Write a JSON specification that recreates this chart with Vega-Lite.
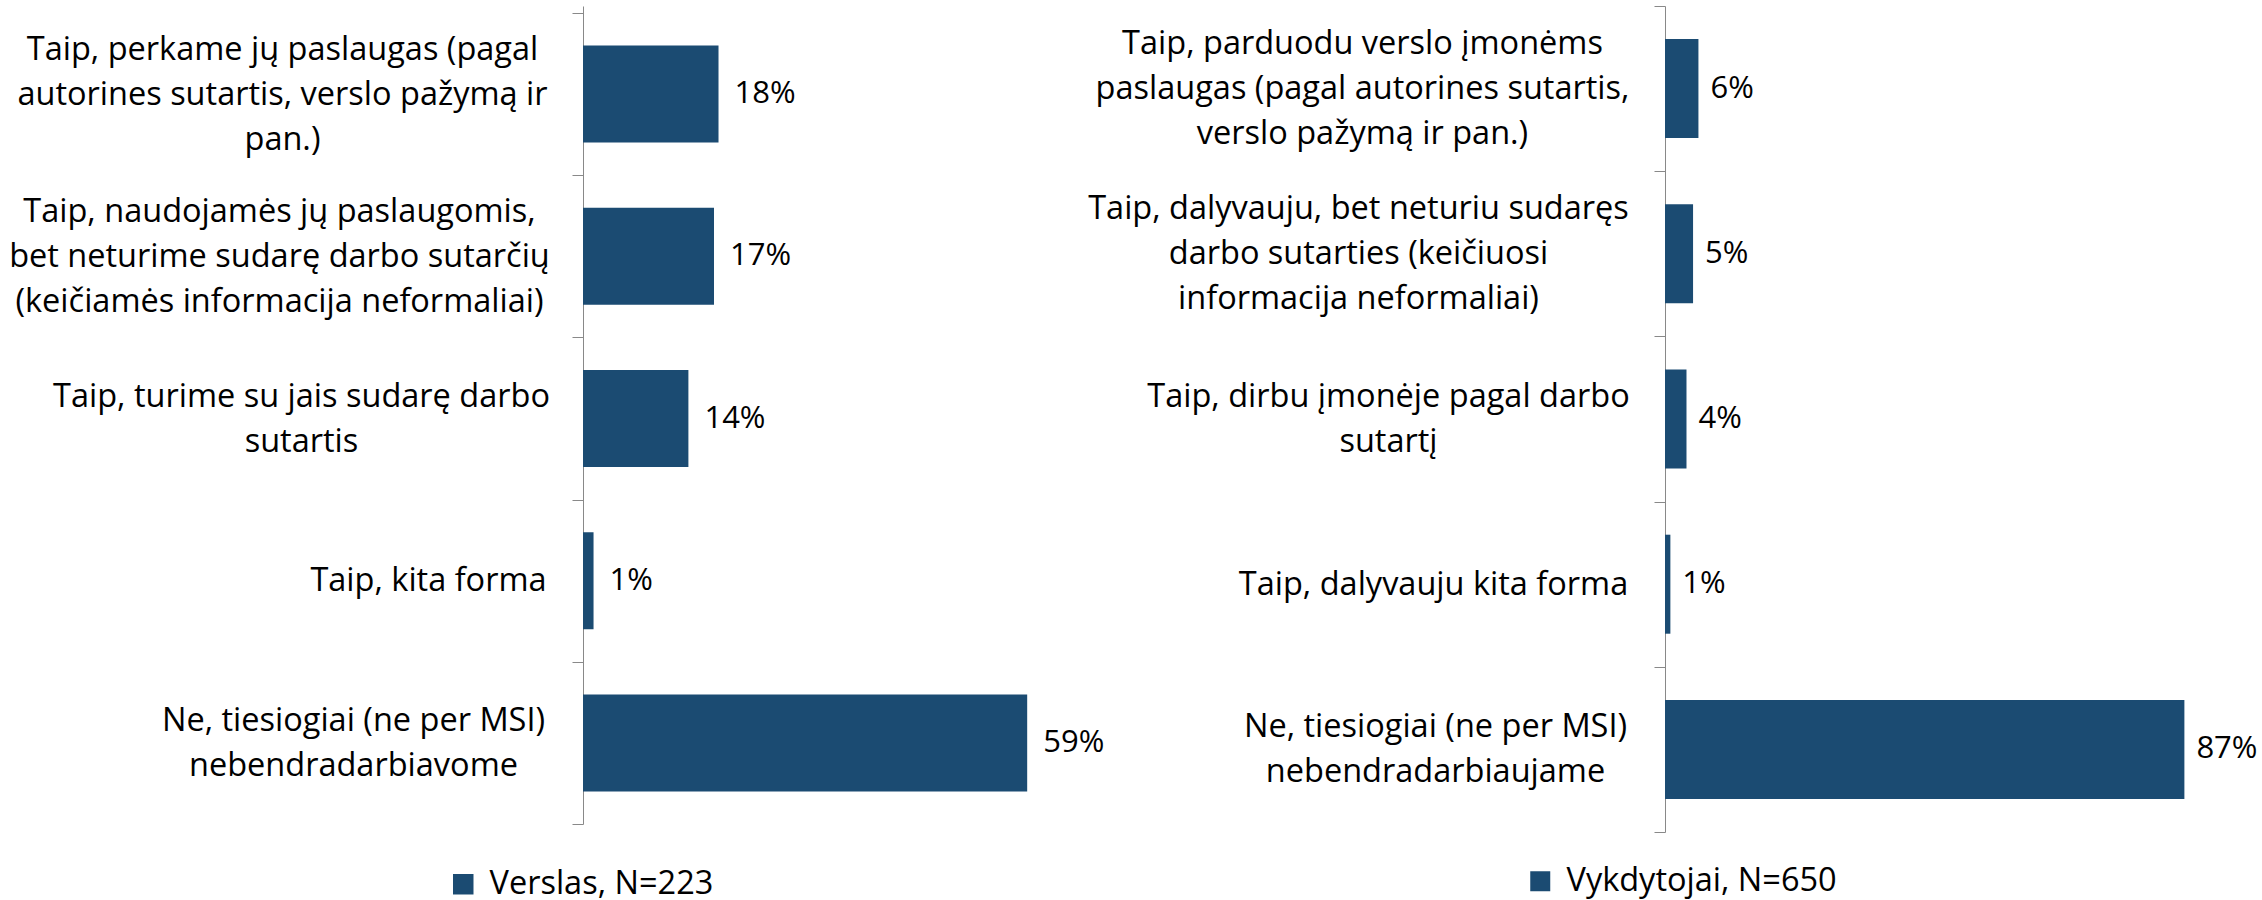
{
  "$schema": "https://vega.github.io/schema/vega-lite/v6.json",
  "autosize": "none",
  "padding": {"left": 583, "top": 6, "right": 1679, "bottom": 894},
  "background": "white",
  "config": {"view": {"stroke": null}, "font": "Open Sans"},
  "bounds": "flush",
  "spacing": 555,
  "resolve": {"scale": {"color": "independent"}},
  "hconcat": [
    {
      "width": 527,
      "height": 818,
      "data": {"values": [
        {"cat": "Taip, perkame jų paslaugas (pagal|autorines sutartis, verslo pažymą ir|pan.)", "value": 0.18, "series": "Verslas, N=223"},
        {"cat": "Taip, naudojamės jų paslaugomis,|bet neturime sudarę darbo sutarčių|(keičiamės informacija neformaliai)", "value": 0.174, "series": "Verslas, N=223"},
        {"cat": "Taip, turime su jais sudarę darbo|sutartis", "value": 0.14, "series": "Verslas, N=223"},
        {"cat": "Taip, kita forma", "value": 0.014, "series": "Verslas, N=223"},
        {"cat": "Ne, tiesiogiai (ne per MSI)|nebendradarbiavome", "value": 0.59, "series": "Verslas, N=223"}
      ]},
      "encoding": {
        "y": {
          "field": "cat", "type": "nominal", "sort": null,
          "scale": {"paddingInner": 0, "paddingOuter": 0.0216, "align": 1},
          "axis": {
            "title": null,
            "tickBand": "extent",
            "tickSize": 11,
            "tickColor": "#898989",
            "domainColor": "#898989",
            "labelExpr": "isString(datum.value) ? split(datum.label, '|') : ''",
            "labelAlign": "center",
            "labelBaseline": "middle",
            "labelFont": "Open Sans",
            "labelFontSize": 32.5,
            "labelLineHeight": 45,
            "labelColor": "#000000",
            "labelLimit": 0,
            "labelOverlap": false,
            "labelOffset": {
              "condition": [
                {"test": "isString(datum.value) && indexof(datum.value, 'perkame') >= 0", "value": -45},
                {"test": "isString(datum.value) && indexof(datum.value, 'naudojam') >= 0", "value": -45},
                {"test": "isString(datum.value) && indexof(datum.value, 'turime su') >= 0", "value": -22.5},
                {"test": "isString(datum.value) && indexof(datum.value, 'MSI') >= 0", "value": -22.5}
              ],
              "value": 0
            },
            "labelPadding": {
              "condition": [
                {"test": "isString(datum.value) && indexof(datum.value, 'perkame') >= 0", "value": 290},
                {"test": "isString(datum.value) && indexof(datum.value, 'naudojam') >= 0", "value": 293},
                {"test": "isString(datum.value) && indexof(datum.value, 'turime su') >= 0", "value": 271},
                {"test": "isString(datum.value) && indexof(datum.value, 'kita forma') >= 0", "value": 144}
              ],
              "value": 219
            }
          }
        },
        "x": {"field": "value", "type": "quantitative", "scale": {"domain": [0, 0.7], "nice": false}, "axis": null}
      },
      "layer": [
        {
          "mark": {"type": "bar", "size": 97},
          "encoding": {
            "color": {
              "field": "series", "type": "nominal",
              "scale": {"range": ["#1b4b72"]},
              "legend": {
                "title": null, "orient": "none", "legendX": -136, "legendY": 862,
                "symbolType": "square", "symbolSize": 420, "symbolStrokeWidth": 0, "symbolOpacity": 1,
                "labelFont": "Open Sans", "labelFontSize": 32.5, "labelColor": "#000000", "labelOffset": 10, "padding": 0, "labelLimit": 0
              }
            }
          }
        },
        {
          "mark": {"type": "text", "align": "left", "baseline": "middle", "dx": 16, "font": "Open Sans", "fontSize": 31, "color": "#000000"},
          "encoding": {"text": {"field": "value", "type": "quantitative", "format": ".0%"}}
        }
      ]
    },
    {
      "width": 597,
      "height": 826,
      "data": {"values": [
        {"cat": "Taip, parduodu verslo įmonėms|paslaugas (pagal autorines sutartis,|verslo pažymą ir pan.)", "value": 0.056, "series": "Vykdytojai, N=650"},
        {"cat": "Taip, dalyvauju, bet neturiu sudaręs|darbo sutarties (keičiuosi|informacija neformaliai)", "value": 0.047, "series": "Vykdytojai, N=650"},
        {"cat": "Taip, dirbu įmonėje pagal darbo|sutartį", "value": 0.036, "series": "Vykdytojai, N=650"},
        {"cat": "Taip, dalyvauju kita forma", "value": 0.009, "series": "Vykdytojai, N=650"},
        {"cat": "Ne, tiesiogiai (ne per MSI)|nebendradarbiaujame", "value": 0.87, "series": "Vykdytojai, N=650"}
      ]},
      "encoding": {
        "y": {
          "field": "cat", "type": "nominal", "sort": null,
          "scale": {"paddingInner": 0, "paddingOuter": 0},
          "axis": {
            "title": null,
            "tickBand": "extent",
            "tickSize": 11,
            "tickColor": "#898989",
            "domainColor": "#898989",
            "labelExpr": "isString(datum.value) ? split(datum.label, '|') : ''",
            "labelAlign": "center",
            "labelBaseline": "middle",
            "labelFont": "Open Sans",
            "labelFontSize": 32.5,
            "labelLineHeight": 45,
            "labelColor": "#000000",
            "labelLimit": 0,
            "labelOverlap": false,
            "labelOffset": {
              "condition": [
                {"test": "isString(datum.value) && indexof(datum.value, 'parduodu') >= 0", "value": -45},
                {"test": "isString(datum.value) && indexof(datum.value, 'neturiu') >= 0", "value": -45},
                {"test": "isString(datum.value) && indexof(datum.value, 'dirbu') >= 0", "value": -22.5},
                {"test": "isString(datum.value) && indexof(datum.value, 'MSI') >= 0", "value": -22.5}
              ],
              "value": 0
            },
            "labelPadding": {
              "condition": [
                {"test": "isString(datum.value) && indexof(datum.value, 'parduodu') >= 0", "value": 292},
                {"test": "isString(datum.value) && indexof(datum.value, 'neturiu') >= 0", "value": 296},
                {"test": "isString(datum.value) && indexof(datum.value, 'dirbu') >= 0", "value": 266},
                {"test": "isString(datum.value) && indexof(datum.value, 'kita forma') >= 0", "value": 221}
              ],
              "value": 219
            }
          }
        },
        "x": {"field": "value", "type": "quantitative", "scale": {"domain": [0, 1], "nice": false}, "axis": null}
      },
      "layer": [
        {
          "mark": {"type": "bar", "size": 99},
          "encoding": {
            "color": {
              "field": "series", "type": "nominal",
              "scale": {"range": ["#1b4b72"]},
              "legend": {
                "title": null, "orient": "none", "legendX": -141, "legendY": 859,
                "symbolType": "square", "symbolSize": 400, "symbolStrokeWidth": 0, "symbolOpacity": 1,
                "labelFont": "Open Sans", "labelFontSize": 32.5, "labelColor": "#000000", "labelOffset": 10, "padding": 0, "labelLimit": 0
              }
            }
          }
        },
        {
          "mark": {"type": "text", "align": "left", "baseline": "middle", "dx": 12, "font": "Open Sans", "fontSize": 31, "color": "#000000"},
          "encoding": {"text": {"field": "value", "type": "quantitative", "format": ".0%"}}
        }
      ]
    }
  ]
}
